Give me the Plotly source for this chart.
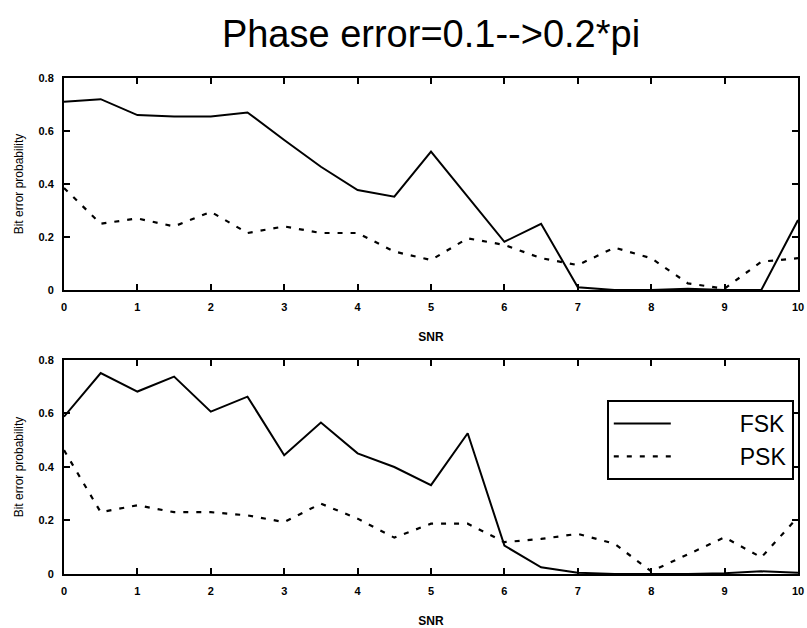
import plotly.graph_objects as go

snr = [0, 0.5, 1, 1.5, 2, 2.5, 3, 3.5, 4, 4.5, 5, 5.5, 6, 6.5, 7, 7.5, 8, 8.5, 9, 9.5, 10]

# Top panel
fsk_top = [0.71, 0.72, 0.66, 0.655, 0.655, 0.67, 0.566, 0.465, 0.377, 0.352, 0.522, 0.35, 0.182, 0.25, 0.01, 0.0, 0.0, 0.005, 0.0, 0.0, 0.264]
psk_top = [0.385, 0.25, 0.27, 0.24, 0.295, 0.215, 0.24, 0.215, 0.215, 0.145, 0.113, 0.195, 0.17, 0.12, 0.094, 0.16, 0.12, 0.025, 0.005, 0.107, 0.12]

# Bottom panel
fsk_bot = [0.588, 0.751, 0.682, 0.738, 0.607, 0.663, 0.444, 0.566, 0.451, 0.40, 0.332, 0.526, 0.106, 0.025, 0.005, 0.0, 0.0, 0.0, 0.003, 0.01, 0.005]
psk_bot = [0.463, 0.231, 0.257, 0.231, 0.231, 0.219, 0.194, 0.263, 0.207, 0.136, 0.188, 0.188, 0.119, 0.131, 0.150, 0.113, 0.01, 0.075, 0.137, 0.062, 0.213]

x_ticks = [0, 1, 2, 3, 4, 5, 6, 7, 8, 9, 10]
y_ticks = [0, 0.2, 0.4, 0.6, 0.8]
y_ticklabels = ["0", "0.2", "0.4", "0.6", "0.8"]

title_text = "Phase error=0.1-->0.2*pi"
x_title = "SNR"
y_title = "Bit error probability"

solid = dict(color="black", width=2)
dotted = dict(color="black", width=2.2, dash="5px,8px")

fig = go.Figure()
fig.add_trace(go.Scatter(x=snr, y=fsk_top, mode="lines", line=solid, showlegend=False, xaxis="x", yaxis="y"))
fig.add_trace(go.Scatter(x=snr, y=psk_top, mode="lines", line=dotted, showlegend=False, xaxis="x", yaxis="y"))
fig.add_trace(go.Scatter(x=snr, y=fsk_bot, mode="lines", line=solid, name="          FSK", xaxis="x2", yaxis="y2"))
fig.add_trace(go.Scatter(x=snr, y=psk_bot, mode="lines", line=dotted, name="          PSK", xaxis="x2", yaxis="y2"))

tickfont = dict(family="Liberation Sans", size=11, color="black", weight="bold")
axcommon = dict(showline=True, linecolor="black", linewidth=2, mirror="ticks",
                ticks="inside", ticklen=6, tickwidth=1.5, tickcolor="black",
                showgrid=False, zeroline=False, tickfont=tickfont,
                ticklabeloverflow="allow", automargin=False)

fig.update_layout(
    width=807, height=628,
    margin=dict(l=64, r=9, t=78, b=54),
    paper_bgcolor="white", plot_bgcolor="white",
    title=dict(text=title_text, x=0.5, xref="paper", xanchor="center",
               y=1 - 34 / 628, yref="container", yanchor="middle",
               font=dict(family="Liberation Sans", size=38, color="black")),
    xaxis=dict(domain=[0, 1], anchor="y", range=[0, 10], tickvals=x_ticks,
               title=dict(text=x_title, standoff=20, font=dict(family="Liberation Sans", size=12, color="black", weight="bold")),
               ticklabelstandoff=6, **axcommon),
    yaxis=dict(domain=[0.5726, 1], anchor="x", range=[0, 0.8], tickvals=y_ticks, ticktext=y_ticklabels,
               title=dict(text=y_title, standoff=12, font=dict(family="Liberation Sans", size=12, color="black")),
               ticklabelstandoff=6, **axcommon),
    xaxis2=dict(domain=[0, 1], anchor="y2", range=[0, 10], tickvals=x_ticks,
                title=dict(text=x_title, standoff=22, font=dict(family="Liberation Sans", size=12, color="black", weight="bold")),
                ticklabelstandoff=6, **axcommon),
    yaxis2=dict(domain=[0, 0.4315], anchor="x2", range=[0, 0.8], tickvals=y_ticks, ticktext=y_ticklabels,
                title=dict(text=y_title, standoff=12, font=dict(family="Liberation Sans", size=12, color="black")),
                ticklabelstandoff=6, **axcommon),
    legend=dict(x=0.7395, y=0.3508, xanchor="left", yanchor="top",
                bgcolor="white", bordercolor="black", borderwidth=2,
                itemwidth=57, font=dict(family="Liberation Sans Narrow, Liberation Sans", size=23, color="black"),
                tracegroupgap=0),
)

fig.write_html("out.html")
